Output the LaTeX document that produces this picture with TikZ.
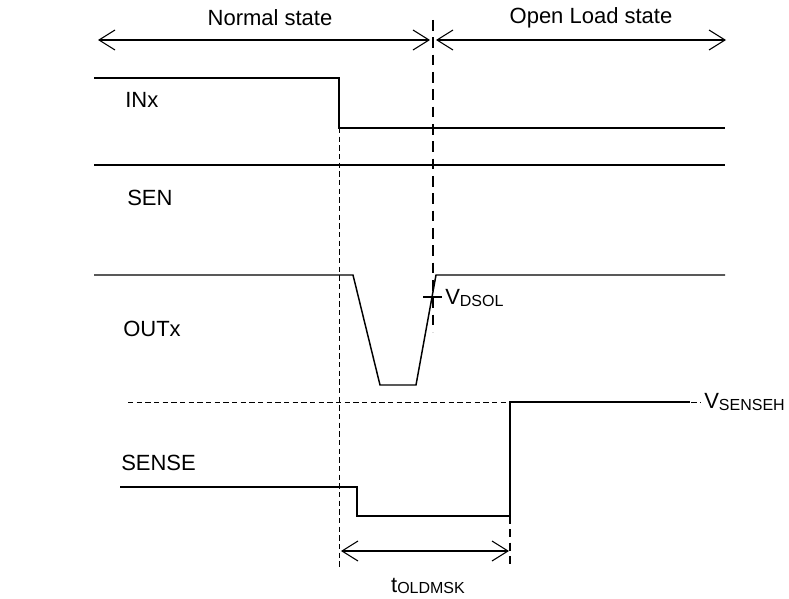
\documentclass[tikz,border=0pt]{standalone}
\usepackage{fontspec}
\setmainfont{Liberation Sans}
\usetikzlibrary{arrows.meta}
\newcommand{\subtxt}[1]{{\fontsize{12}{14}\selectfont\raisebox{-0.12em}{#1}}}
\begin{document}
\begin{tikzpicture}[x=0.75pt,y=-0.75pt,
  sig/.style={line width=1.1pt, line join=miter},
  thin/.style={line width=0.8pt},
  dimarrow/.style={line width=0.8pt, {Straight Barb[length=12pt,width=15pt,line width=0.8pt]}-{Straight Barb[length=12pt,width=15pt,line width=0.8pt]}},
  thickdash/.style={line width=1.5pt, dash pattern=on 8pt off 5pt},
  thindash/.style={line width=0.75pt, dash pattern=on 4pt off 2.5pt},
  lbl/.style={font=\fontsize{16.5}{19}\selectfont, inner sep=0pt}]
\useasboundingbox (0,0) rectangle (789,599);
% titles
\node[lbl] (normal) at (270,18) {Normal state};
\node[lbl] (open) at (591,18) {Open Load state};
\coordinate (nl) at (98,40); \coordinate (nr) at (430,40);
\coordinate (ol) at (436,40); \coordinate (or) at (726,40);
\draw[dimarrow] (nl) -- (nr);
\draw[dimarrow] (ol) -- (or);
% signal labels
\node[lbl, anchor=west] (inx) at (125,100) {INx};
\node[lbl, anchor=west] (sen) at (127,198) {SEN};
\node[lbl, anchor=west] (outx) at (123,329) {OUTx};
\node[lbl, anchor=west] (sense) at (121,463) {SENSE};
% vertical dashed lines
\coordinate (d1t) at (433,20); \coordinate (d1b) at (433,332);
\draw[thickdash] (d1t) -- (d1b);
\coordinate (d2t) at (339,128); \coordinate (d2b) at (339,568);
\draw[thindash] (d2t) -- (d2b);
\coordinate (d3t) at (510,516); \coordinate (d3b) at (510,568);
\draw[thickdash, dash pattern=on 6pt off 4pt] (d3t) -- (d3b);
% INx
\coordinate (i0) at (94,78); \coordinate (i1) at (339,78);
\coordinate (i2) at (339,128); \coordinate (i3) at (725,128);
\draw[sig] (i0) -- (i1) -- (i2) -- (i3);
% SEN
\coordinate (s0) at (94,165); \coordinate (s1) at (725,165);
\draw[sig] (s0) -- (s1);
% OUTx
\coordinate (o0) at (94,275); \coordinate (o1) at (353,275);
\coordinate (o2) at (380,385); \coordinate (o3) at (416,385);
\coordinate (o4) at (436,275); \coordinate (o5) at (725,275);
\draw[sig] (o0) -- (o1) -- (o2) -- (o3) -- (o4) -- (o5);
% VDSOL tick
\coordinate (t0) at (423,297); \coordinate (t1) at (442,297);
\draw[thin] (t0) -- (t1);
\node[lbl, anchor=west] (vdsol) at (445,298) {V\subtxt{DSOL}};
% VSENSEH threshold
\coordinate (v0) at (128,402); \coordinate (v1) at (701,402);
\draw[thindash] (v0) -- (v1);
\node[lbl, anchor=west] (vsenseh) at (704,402) {V\subtxt{SENSEH}};
% SENSE
\coordinate (e0) at (120,487); \coordinate (e1) at (357,487);
\coordinate (e2) at (357,516); \coordinate (e3) at (510,516);
\coordinate (e4) at (510,402); \coordinate (e5) at (690,402);
\draw[sig] (e0) -- (e1) -- (e2) -- (e3) -- (e4) -- (e5);
% tOLDMSK
\coordinate (ta) at (341,551); \coordinate (tb) at (509,551);
\draw[dimarrow] (ta) -- (tb);
\node[lbl] (toldmsk) at (428,586) {t\subtxt{OLDMSK}};
\end{tikzpicture}
\end{document}
